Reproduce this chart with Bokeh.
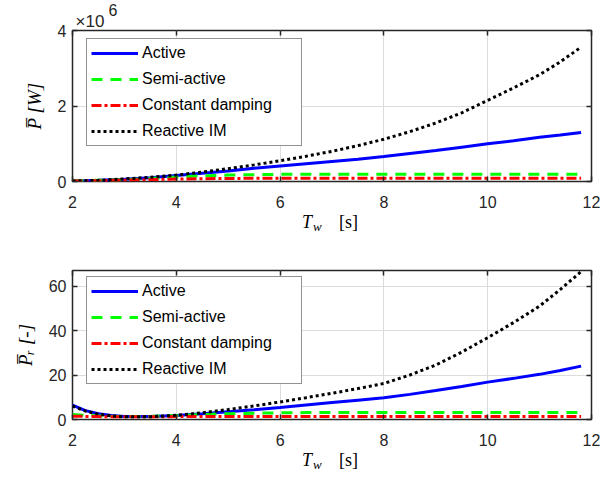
from bokeh.plotting import figure
from bokeh.models import Range1d, FixedTicker, LinearAxis, Legend, LegendItem, Title, Div
from bokeh.layouts import column
from bokeh.embed import file_html
from bokeh.resources import INLINE

# ---------------- data ----------------
Tw = [2.0, 2.25, 2.5, 2.75, 3.0, 3.5, 4.0, 4.5, 5.0, 5.5, 6.0, 6.5, 7.0, 7.5,
      8.0, 8.5, 9.0, 9.5, 10.0, 10.5, 11.0, 11.4, 11.8]

# mean absorbed power, units of 1e6 W
P_active = [0.01, 0.02, 0.03, 0.045, 0.06, 0.10, 0.16, 0.22, 0.28, 0.35, 0.41, 0.47,
            0.53, 0.59, 0.66, 0.74, 0.82, 0.91, 1.00, 1.08, 1.17, 1.23, 1.30]
P_semi = [0.01, 0.02, 0.03, 0.04, 0.05, 0.08, 0.12, 0.15, 0.17, 0.18, 0.19, 0.19,
          0.19, 0.19, 0.19, 0.19, 0.19, 0.19, 0.19, 0.19, 0.19, 0.19, 0.19]
P_const = [0.01, 0.015, 0.02, 0.03, 0.035, 0.05, 0.065, 0.075, 0.08, 0.085, 0.085, 0.085,
           0.085, 0.085, 0.085, 0.085, 0.085, 0.085, 0.085, 0.085, 0.085, 0.085, 0.085]
P_react = [0.01, 0.02, 0.03, 0.05, 0.07, 0.11, 0.17, 0.25, 0.34, 0.44, 0.55, 0.67,
           0.80, 0.95, 1.12, 1.32, 1.55, 1.82, 2.15, 2.48, 2.83, 3.17, 3.56]

# relative power ratio [-]
Pr_active = [6.5, 4.0, 2.6, 1.8, 1.4, 1.3, 1.8, 2.6, 3.5, 4.4, 5.4, 6.5,
             7.6, 8.7, 9.8, 11.3, 13.0, 14.8, 16.8, 18.5, 20.3, 22.0, 24.0]
Pr_semi = [2.2, 1.9, 1.6, 1.4, 1.3, 1.4, 1.8, 2.2, 2.6, 2.85, 3.0, 3.1,
           3.2, 3.2, 3.2, 3.2, 3.2, 3.2, 3.2, 3.2, 3.2, 3.2, 3.2]
Pr_const = [1.5, 1.4, 1.3, 1.2, 1.2, 1.2, 1.3, 1.35, 1.4, 1.4, 1.4, 1.4,
            1.4, 1.4, 1.4, 1.4, 1.4, 1.4, 1.4, 1.4, 1.4, 1.4, 1.4]
Pr_react = [6.0, 3.8, 2.4, 1.6, 1.2, 1.2, 1.9, 3.0, 4.5, 6.1, 7.9, 9.8,
            11.8, 13.9, 16.2, 20.0, 24.5, 30.3, 36.8, 43.6, 51.0, 58.5, 66.5]

labels = ["Active", "Semi-active", "Constant damping", "Reactive IM"]
x_ticks = [2, 4, 6, 8, 10, 12]
y_ticks_top = [0, 2, 4]
y_ticks_bot = [0, 20, 40, 60]
ylabel_top = "P\u0305 [W]"
ylabel_bot = "P\u0305\u1d63 [-]"
exp_base = "\u00d710"
exp_power = "6"

# ---------------- styling ----------------
DARK = "#262626"
SANS = "Liberation Sans"
SERIF = "Liberation Serif"
styles = [
    dict(line_color="#0000FF", line_width=3),
    dict(line_color="#00FF00", line_width=3, line_dash="11 8"),
    dict(line_color="#FF0000", line_width=3, line_dash="10 3 3 3"),
    dict(line_color="#000000", line_width=3, line_dash="3 3"),
]
W = 605


def mirror_axis(ticks):
    return LinearAxis(ticker=FixedTicker(ticks=ticks), axis_line_color=None,
                      major_tick_in=5, major_tick_out=0, major_tick_line_color=DARK,
                      major_tick_line_width=1.5, minor_tick_line_color=None,
                      major_label_text_font_size="1px", major_label_text_color=None,
                      major_label_standoff=0)


def make_fig(height, ymax, yticks, series, ylabel, b_top, b_bottom):
    p = figure(width=W, height=height, output_backend="svg", toolbar_location=None,
               x_range=Range1d(2, 12), y_range=Range1d(0, ymax),
               min_border_left=72, min_border_right=14, min_border_top=b_top,
               min_border_bottom=b_bottom)
    p.background_fill_color = "white"
    p.border_fill_color = "white"
    p.outline_line_color = DARK
    p.outline_line_width = 1.5
    p.xaxis.ticker = FixedTicker(ticks=x_ticks)
    p.yaxis.ticker = FixedTicker(ticks=yticks)
    for ax in (p.xaxis[0], p.yaxis[0]):
        ax.axis_line_color = None
        ax.major_tick_in = 5
        ax.major_tick_out = 0
        ax.major_tick_line_color = DARK
        ax.major_tick_line_width = 1.5
        ax.minor_tick_line_color = None
        ax.major_label_text_font = SANS
        ax.major_label_text_font_size = "16px"
        ax.major_label_text_color = DARK
    p.xaxis.major_label_standoff = 14
    p.yaxis.major_label_standoff = 6
    p.yaxis.axis_label = ylabel
    p.yaxis.axis_label_text_font = SERIF
    p.yaxis.axis_label_text_font_style = "italic"
    p.yaxis.axis_label_text_font_size = "19px"
    p.yaxis.axis_label_text_color = "#000000"
    p.yaxis.axis_label_standoff = 10
    p.add_layout(mirror_axis(x_ticks), "above")
    p.add_layout(mirror_axis(yticks), "right")
    p.xgrid.grid_line_color = "#dcdcdc"
    p.ygrid.grid_line_color = "#dcdcdc"
    p.xgrid.ticker = FixedTicker(ticks=x_ticks)
    p.ygrid.ticker = FixedTicker(ticks=yticks)

    items = []
    for lab_, ys, st in zip(labels, series, styles):
        r = p.line(Tw, ys, **st)
        items.append(LegendItem(label=lab_, renderers=[r]))
    leg = Legend(items=items, location=(14, 35))
    leg.padding = 4
    leg.margin = 0
    leg.spacing = 6
    leg.glyph_width = 47
    leg.glyph_height = 20
    leg.label_height = 20
    leg.label_width = 155
    leg.label_standoff = 4
    leg.label_text_font = SANS
    leg.label_text_font_size = "16px"
    leg.label_text_color = "#000000"
    leg.border_line_color = DARK
    leg.border_line_width = 1.5
    leg.background_fill_color = "white"
    leg.background_fill_alpha = 1.0
    p.add_layout(leg, "center")
    return p


def xlabel_div(height):
    html = (
        '<div style="position:relative;width:605px;height:%dpx;'
        "font-family:'Liberation Serif';color:#000;white-space:nowrap;\">"
        '<span style="position:absolute;left:302px;top:3px;font-size:18px;line-height:18px;font-style:italic">T</span>'
        '<span style="position:absolute;left:313px;top:10px;font-size:13px;line-height:13px;font-style:italic">w</span>'
        '<span style="position:absolute;left:339px;top:3px;font-size:18px;line-height:18px">[s]</span>'
        "</div>" % height
    )
    return Div(text=html, width=W, height=height, margin=0)


# ---------------- top panel ----------------
p1 = make_fig(210, 4, y_ticks_top, [P_active, P_semi, P_const, P_react], ylabel_top, 30, 27)
p1.add_layout(Title(text=exp_base, align="left", offset=3, text_font=SANS,
                    text_font_size="17px", text_font_style="normal",
                    text_color=DARK, standoff=-1), "above")
p1.add_layout(Title(text=exp_power, align="left", offset=36, text_font=SANS,
                    text_font_size="16px", text_font_style="normal",
                    text_color=DARK, standoff=-10), "above")

# ---------------- bottom panel ----------------
p2 = make_fig(200, 67, y_ticks_bot, [Pr_active, Pr_semi, Pr_const, Pr_react], ylabel_bot, 22, 27)

layout = column(p1, xlabel_div(38), p2, xlabel_div(39), spacing=0)
open("out.html", "w").write(file_html(layout, INLINE))
